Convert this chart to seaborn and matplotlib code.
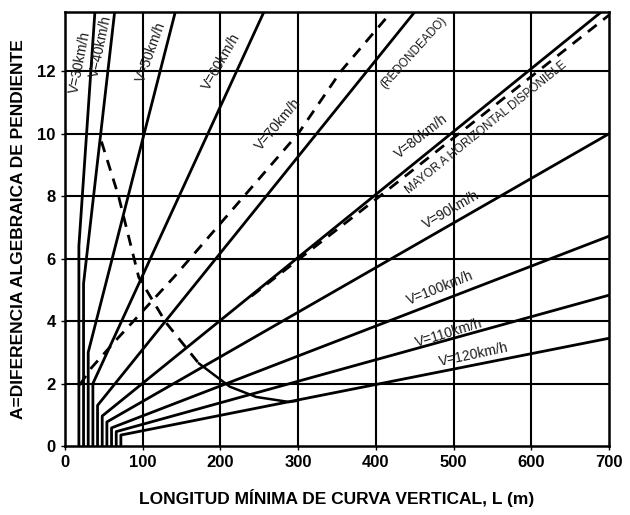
import matplotlib
matplotlib.use("Agg")
import matplotlib.pyplot as plt
import seaborn as sns
import pandas as pd

# ---- data ----
speeds = [30, 40, 50, 60, 70, 80, 90, 100, 110, 120]
l_min = [18, 24, 30, 36, 42, 48, 54, 60, 66, 72]          # vertical part at bottom
a_knee = [6.4, 5.2, 3.0, 2.0, 1.3, 0.96, 0.77, 0.58, 0.46, 0.35]
l_end = [38.6, 64, 142, 256, 450, 690, 700, 700, 700, 700]
a_end = [13.9, 13.9, 13.9, 13.9, 13.9, 13.9, 10.0, 6.72, 4.83, 3.45]

dash1_L = [19, 34, 68, 140, 220, 300, 355, 420]
dash1_A = [1.95, 2.5, 3.45, 5.4, 7.7, 10.0, 12.0, 13.9]

dash2_L = [240, 400, 700]
dash2_A = [4.8, 7.9, 13.8]

curve_dash_L = [47, 69, 95, 130, 172]
curve_dash_A = [9.75, 8.0, 5.4, 3.95, 2.65]
curve_solid_L = [172, 212, 246, 288, 300]
curve_solid_A = [2.65, 1.9, 1.57, 1.41, 1.45]

x_ticks = [0, 100, 200, 300, 400, 500, 600, 700]
y_ticks = [0, 2, 4, 6, 8, 10, 12]

label_texts = ["V=30km/h", "V=40km/h", "V=50km/h", "V=60km/h", "V=70km/h",
               "(REDONDEADO)", "V=80km/h", "MAYOR A HORIZONTAL DISPONIBLE",
               "V=90km/h", "V=100km/h", "V=110km/h", "V=120km/h"]
label_L = [19, 46, 111, 201, 274, 448, 458, 542, 497, 483, 494, 526]
label_A = [12.3, 12.8, 12.6, 12.3, 10.3, 12.6, 9.9, 10.2, 7.56, 5.06, 3.62, 2.92]
label_rot = [79, 78, 70, 60, 50, 48, 38, 39, 30, 22, 17, 12]

# ---- build long-form table ----
rows = []
for v, lm, ak, le, ae in zip(speeds, l_min, a_knee, l_end, a_end):
    for i, (L, A) in enumerate([(lm, 0.0), (lm, ak), (le, ae)]):
        rows.append({"serie": f"V{v}", "orden": i, "L": L, "A": A})
df = pd.DataFrame(rows)

sns.set_theme(style="white")
plt.rcParams["font.family"] = ["Liberation Sans", "DejaVu Sans"]

fig = plt.figure(figsize=(6.3, 5.15), dpi=100)
ax = fig.add_axes([0.103, 0.134, 0.864, 0.843])

for x in x_ticks[1:-1]:
    ax.axvline(x, color="black", lw=1.5, zorder=1)
for y in y_ticks[1:]:
    ax.axhline(y, color="black", lw=1.5, zorder=1)

dash = (0, (4, 3))
sns.lineplot(data=df, x="L", y="A", units="serie", estimator=None, sort=False,
             color="black", lw=2.0, ax=ax, zorder=3)
sns.lineplot(x=dash1_L, y=dash1_A, sort=False, estimator=None, color="black",
             lw=2.0, ax=ax, zorder=3, linestyle=dash)
sns.lineplot(x=dash2_L, y=dash2_A, sort=False, estimator=None, color="black",
             lw=2.0, ax=ax, zorder=3, linestyle=dash)
sns.lineplot(x=curve_dash_L, y=curve_dash_A, sort=False, estimator=None,
             color="black", lw=2.0, ax=ax, zorder=3, linestyle=dash)
sns.lineplot(x=curve_solid_L, y=curve_solid_A, sort=False, estimator=None,
             color="black", lw=1.8, ax=ax, zorder=3)

for t, L, A, r in zip(label_texts, label_L, label_A, label_rot):
    fs = 8.5 if t.startswith("(") or t.startswith("M") else 10
    ax.text(L, A, t, rotation=r, rotation_mode="anchor", ha="center",
            va="center", fontsize=fs, color="#1a1a1a", zorder=4)

ax.set_xlim(0, 700)
ax.set_ylim(0, 13.9)
ax.set_xticks(x_ticks)
ax.set_yticks(y_ticks)
ax.tick_params(axis="both", labelsize=12, length=3, width=1, direction="out",
               bottom=True, left=True, colors="black")
for lab in ax.get_xticklabels() + ax.get_yticklabels():
    lab.set_fontweight("bold")
for s in ax.spines.values():
    s.set_color("black")
    s.set_linewidth(1.8)

ax.set_xlabel("LONGITUD MÍNIMA DE CURVA VERTICAL, L (m)", fontsize=12.5,
              fontweight="bold", labelpad=14, color="black")
ax.set_ylabel("A=DIFERENCIA ALGEBRAICA DE PENDIENTE", fontsize=12.5,
              fontweight="bold", labelpad=8, color="black")

fig.savefig("out.png", dpi=100)
